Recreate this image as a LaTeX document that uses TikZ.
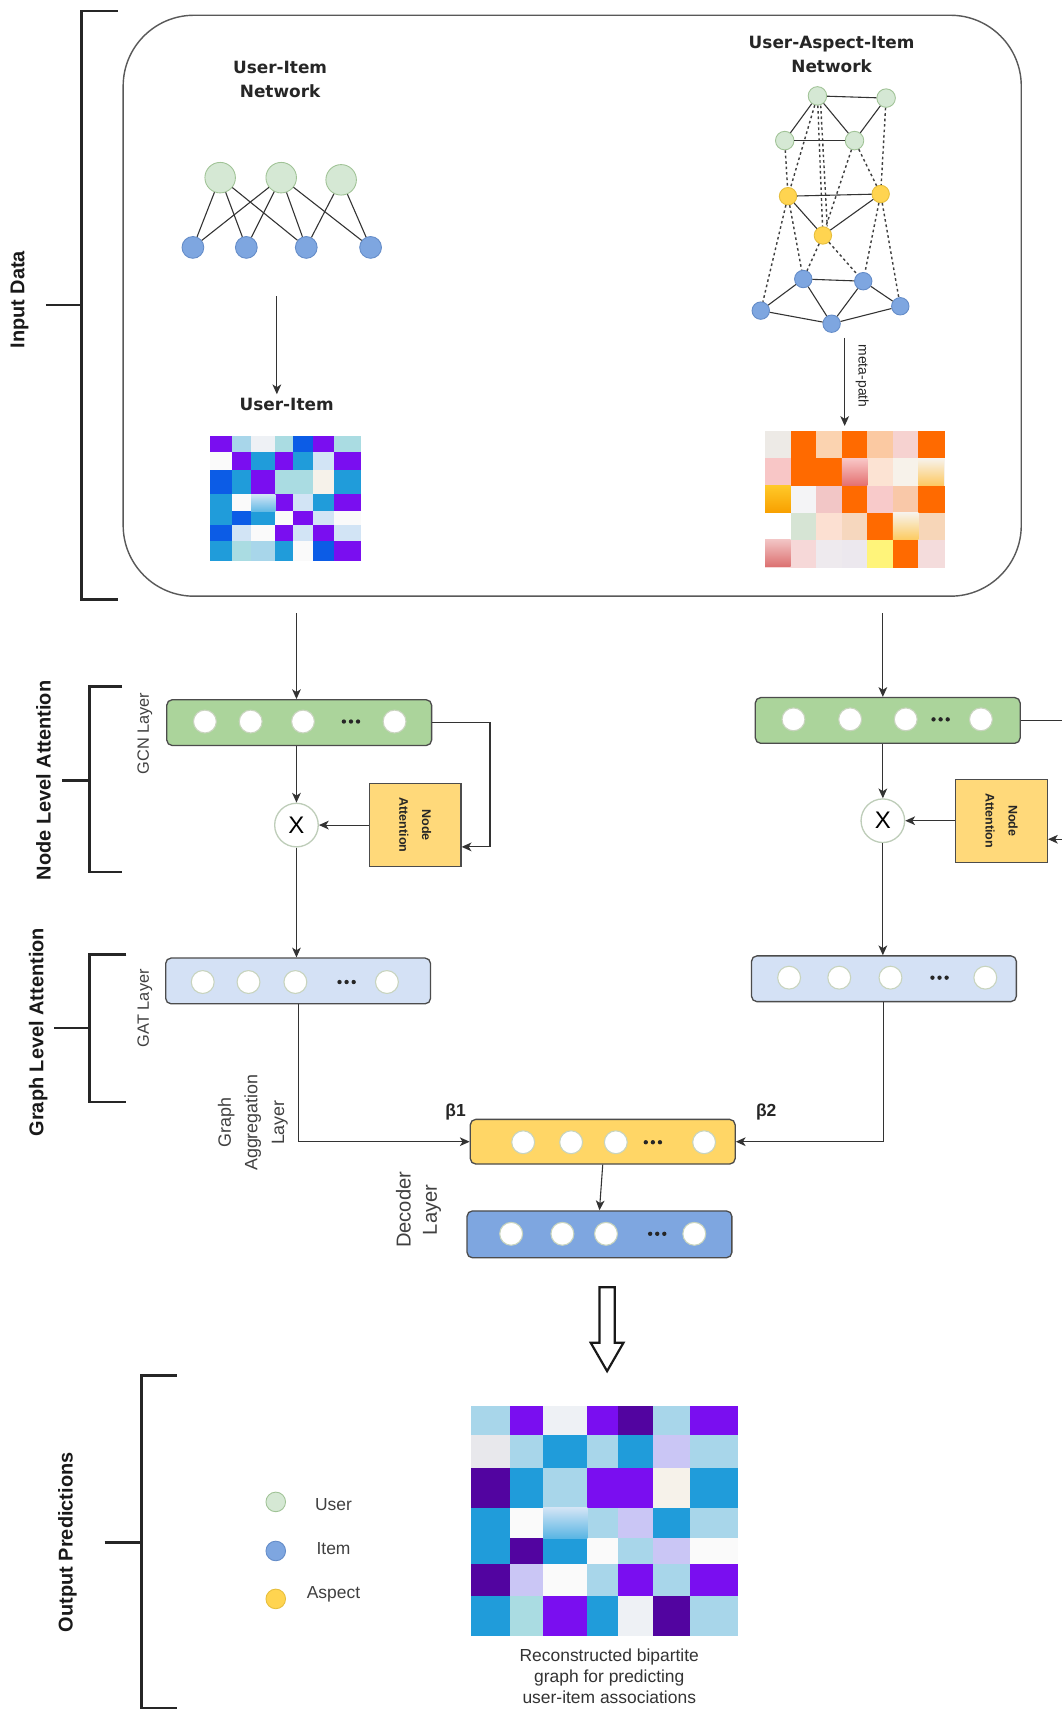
\documentclass[tikz,border=0pt]{standalone}
\usepackage{fontspec}
\setmainfont{Liberation Sans}
\newfontfamily\dv{DejaVu Sans}
\usetikzlibrary{arrows.meta,calc}

\definecolor{gcnc}{RGB}{171,212,155}
\definecolor{gatc}{RGB}{212,225,245}
\definecolor{aggc}{RGB}{255,214,102}
\definecolor{decc}{RGB}{126,166,224}
\definecolor{nattc}{RGB}{255,217,122}
\definecolor{ugreen}{RGB}{213,232,212}
\definecolor{ugreenb}{RGB}{160,195,150}
\definecolor{iblue}{RGB}{126,166,224}
\definecolor{ibblue}{RGB}{100,140,200}
\definecolor{ayel}{RGB}{255,212,80}
\definecolor{ayelb}{RGB}{230,190,60}
% blue/purple heat map
\definecolor{hP}{RGB}{122,14,240}
\definecolor{hDP}{RGB}{82,4,160}
\definecolor{hB}{RGB}{12,92,230}
\definecolor{hMB}{RGB}{32,156,218}
\definecolor{hLB}{RGB}{168,214,234}
\definecolor{hLG}{RGB}{170,220,226}
\definecolor{hVL}{RGB}{238,241,245}
\definecolor{hW}{RGB}{250,250,250}
\definecolor{hLV}{RGB}{202,198,245}
\definecolor{hLL}{RGB}{210,228,245}
\definecolor{hCR}{RGB}{246,242,234}
\definecolor{hGR}{RGB}{232,232,236}
% orange heat map
\definecolor{oO}{RGB}{255,106,0}
\definecolor{oGy}{RGB}{237,234,230}
\definecolor{oPc}{RGB}{251,211,176}
\definecolor{oPcb}{RGB}{251,201,162}
\definecolor{oPk}{RGB}{246,210,208}
\definecolor{oPkb}{RGB}{248,198,198}
\definecolor{oLP}{RGB}{252,227,211}
\definecolor{oCr}{RGB}{247,242,234}
\definecolor{oWh}{RGB}{244,244,246}
\definecolor{oPkc}{RGB}{242,198,198}
\definecolor{oPkd}{RGB}{248,202,202}
\definecolor{oPcc}{RGB}{249,200,168}
\definecolor{oW}{RGB}{255,255,255}
\definecolor{oGn}{RGB}{214,228,212}
\definecolor{oLPb}{RGB}{252,224,210}
\definecolor{oPcd}{RGB}{246,215,190}
\definecolor{oPce}{RGB}{247,214,184}
\definecolor{oPke}{RGB}{246,216,216}
\definecolor{oGyb}{RGB}{238,234,238}
\definecolor{oGyc}{RGB}{236,232,238}
\definecolor{oYl}{RGB}{255,244,122}
\definecolor{oPkf}{RGB}{244,220,220}

% #1 x0, #2 y0, #3 w, #4 h, #5 column fractions, #6 row fractions, #7 rows of colours
\newcommand\heatgrid[7]{%
  \foreach \rw [count=\rj] in {#7} {%
    \foreach \cl [count=\cj] in \rw {%
      \pgfmathtruncatemacro\ci{\cj-1}%
      \pgfmathtruncatemacro\ri{\rj-1}%
      \pgfmathsetmacro\xa{#1+#3*{#5}[\ci]}%
      \pgfmathsetmacro\xb{#1+#3*{#5}[\cj]}%
      \pgfmathsetmacro\ya{#2+#4*{#6}[\ri]}%
      \pgfmathsetmacro\yb{#2+#4*{#6}[\rj]}%
      \fill[fill=\cl,draw=\cl,line width=0.3pt] (\xa,\ya) rectangle (\xb,\yb);
    }}}

% #1 y, #2 list of circle x, #3 dots x, #4 name prefix
\newcommand\layercircs[4]{%
  \foreach \lx [count=\k] in {#2} \node[lc] (#4-\k) at (\lx,#1) {};
  \foreach \dd in {-6.5,0,6.5} \fill[black!85] (#3+\dd,#1) circle (2pt);
}

\begin{document}
\begin{tikzpicture}[x=1pt,y=-1pt,
  brk/.style={line width=2.4pt,draw=black!85},
  arr/.style={draw=black!80,line width=1pt,-{Stealth[length=9pt,width=8pt,inset=2.5pt]}},
  plain/.style={draw=black!80,line width=1pt},
  layer/.style={draw=black!70,line width=1.2pt,rounded corners=5pt,minimum width=243pt,minimum height=42pt,inner sep=0pt},
  lc/.style={circle,fill=white,draw={rgb,255:red,200;green,212;blue,190},line width=1pt,minimum size=21pt,inner sep=0pt},
  unode/.style={circle,fill=ugreen,draw=ugreenb,line width=0.8pt,inner sep=0pt},
  inode/.style={circle,fill=iblue,draw=ibblue,line width=0.8pt,inner sep=0pt},
  anode/.style={circle,fill=ayel,draw=ayelb,line width=0.8pt,inner sep=0pt},
  gedge/.style={draw=black!80,line width=1pt},
  dedge/.style={draw=black!75,line width=1.3pt,dash pattern=on 2.4pt off 2.6pt},
  title/.style={font=\dv\bfseries\fontsize{15.5}{22}\selectfont,align=center,text=black!85},
  blabel/.style={rotate=90,font=\bfseries\fontsize{18.3}{21}\selectfont,text=black!90},
  slabel/.style={rotate=90,font=\fontsize{15}{24}\selectfont,text=black!75,align=center},
  natt/.style={draw=black!70,line width=1.1pt,fill=nattc,minimum width=84pt,minimum height=76pt,inner sep=0pt},
  mult/.style={circle,draw={rgb,255:red,190;green,205;blue,185},line width=1.2pt,fill=white,minimum size=40pt,inner sep=0pt,font=\fontsize{22}{22}\selectfont}
]
\useasboundingbox (0,0) rectangle (974,1568);
\fill[white] (0,0) rectangle (974,1568);

% ---------------- brackets ----------------
\draw[brk] (108,10) -- (75,10) -- (75,550) -- (108,550);
\draw[brk] (42,280) -- (75,280);
\node[blabel] (lbinput) at (18,275) {Input Data};

\draw[brk] (112,630) -- (82,630) -- (82,800) -- (112,800);
\draw[brk] (57,716) -- (82,716);
\node[blabel] (lbnode) at (40,716) {Node Level Attention};

\draw[brk] (116,876) -- (82,876) -- (82,1011) -- (116,1011);
\draw[brk] (50,943) -- (82,943);
\node[blabel] (lbgraph) at (35,947) {Graph Level Attention};

\draw[brk] (162,1262) -- (130,1262) -- (130,1567) -- (162,1567);
\draw[brk] (96,1415) -- (130,1415);
\node[blabel] (lbout) at (62,1415) {Output Predictions};

% ---------------- input box ----------------
\node[draw=black!65,line width=1.3pt,rounded corners=65pt,minimum width=824pt,minimum height=533pt,inner sep=0pt] (inbox) at (525,280.5) {};

% left network
\node[title] (t1) at (257,73) {User-Item\\Network};
\node[unode,minimum size=28pt] (u1) at (202,163) {};
\node[unode,minimum size=28pt] (u2) at (258,163) {};
\node[unode,minimum size=28pt] (u3) at (313,165) {};
\node[inode,minimum size=20pt] (i1) at (177,227) {};
\node[inode,minimum size=20pt] (i2) at (226,227) {};
\node[inode,minimum size=20pt] (i3) at (281,227) {};
\node[inode,minimum size=20pt] (i4) at (340,227) {};
\foreach \a/\b in {u1/i1,u1/i2,u1/i3,u2/i1,u2/i2,u2/i3,u2/i4,u3/i3,u3/i4}
  \draw[gedge] (\a) -- (\b);

\coordinate (lstart) at (254,272);
\node[title] (ulabel) at (263,371) {User-Item};
\draw[arr] (lstart) -- (lstart |- ulabel.north);

\node[inner sep=0pt,minimum width=137pt,minimum height=114pt] (lmat) at (261.5,457) {};
\heatgrid{193}{400}{137}{114}{0,0.148,0.273,0.435,0.556,0.69,0.828,1}{0,0.132,0.274,0.468,0.605,0.715,0.847,1}{%
 {hP,hLB,hVL,hLG,hB,hP,hLG},
 {hW,hP,hMB,hP,hMB,hLL,hP},
 {hB,hMB,hP,hLG,hLG,hCR,hMB},
 {hMB,hW,hLL,hP,hLL,hMB,hP},
 {hMB,hB,hMB,hW,hP,hLL,hW},
 {hB,hLL,hW,hP,hLL,hP,hLL},
 {hMB,hLG,hLB,hMB,hW,hB,hP}}
\shade[top color=hLL,bottom color=hMB!70] (230.4,453.4) rectangle (252.6,469.0);

% right network
\node[title] (t2) at (763,50) {User-Aspect-Item\\Network};
\node[unode,minimum size=17pt] (g1) at (750,88) {};
\node[unode,minimum size=17pt] (g2) at (813,90) {};
\node[unode,minimum size=17pt] (g3) at (720,129) {};
\node[unode,minimum size=17pt] (g4) at (784,129) {};
\node[anode,minimum size=16pt] (y1) at (723,180) {};
\node[anode,minimum size=16pt] (y2) at (808,178) {};
\node[anode,minimum size=16pt] (y3) at (755,216) {};
\node[inode,minimum size=16pt] (b1) at (737,256) {};
\node[inode,minimum size=16pt] (b2) at (792,258) {};
\node[inode,minimum size=16pt] (b3) at (698,285) {};
\node[inode,minimum size=16pt] (b4) at (763,297) {};
\node[inode,minimum size=16pt] (b5) at (826,281) {};
\foreach \a/\b in {g1/g2,g1/g3,g1/g4,g2/g4,g3/g4,y1/y2,y1/y3,y3/y2,b1/b2,b1/b3,b1/b4,b2/b4,b2/b5,b3/b4,b4/b5}
  \draw[gedge] (\a) -- (\b);
\foreach \a/\b in {g3/y1,g1/y1,g1/y3,g4/y3,g4/y2,g2/y2,y1/b3,y1/b1,y3/b1,y3/b2,y2/b2,y2/b5}
  \draw[dedge] (\a) -- (\b);
\draw[dedge] ([xshift=3pt]g1.south) -- ([xshift=4pt]y3.north);

\node[inner sep=0pt,minimum width=164pt,minimum height=124pt] (rmat) at (784,458) {};
\heatgrid{702}{396}{164}{124}{0,0.142857,0.285714,0.428571,0.571429,0.714286,0.857143,1}{0,0.2,0.4,0.6,0.8,1}{%
 {oGy,oO,oPc,oO,oPcb,oPk,oO},
 {oPkb,oO,oO,oPkb,oLP,oCr,oCr},
 {oO,oWh,oPkc,oO,oPkd,oPcc,oO},
 {oW,oGn,oLPb,oPcd,oO,oCr,oPce},
 {oPke,oPke,oGyb,oGyc,oYl,oO,oPkf}}
\shade[top color=oPkb,bottom color={rgb,255:red,228;green,112;blue,112}] (772.3,420.8) rectangle (795.7,445.6);
\shade[top color=oCr,bottom color={rgb,255:red,253;green,200;blue,96}] (842.6,420.8) rectangle (866,445.6);
\shade[top color={rgb,255:red,255;green,200;blue,40},bottom color={rgb,255:red,248;green,160;blue,0}] (702,445.6) rectangle (725.4,470.4);
\shade[top color=oCr,bottom color={rgb,255:red,253;green,203;blue,96}] (819.1,470.4) rectangle (842.6,495.2);
\shade[top color={rgb,255:red,242;green,196;blue,196},bottom color={rgb,255:red,220;green,112;blue,112}] (702,495.2) rectangle (725.4,520);

\coordinate (rstart) at (775,310);
\draw[arr,shorten >=5pt] (rstart) -- (rstart |- rmat.north);
\node[rotate=-90,font=\fontsize{12.8}{14}\selectfont,text=black!85] (mpath) at (791,345) {meta-path};

% ---------------- left branch ----------------
\node[layer,fill=gcnc] (gcnL) at (274.5,663) {};
\layercircs{662}{188,230,278,362}{322}{cgL}
\node[slabel] (lgcn) at (133,673) {GCN Layer};
\node[mult] (xL) at (272,757) {X};
\node[natt] (naL) at (381,757) {};
\node[rotate=-90,align=center,font=\bfseries\fontsize{11.5}{21}\selectfont,text=black!85] (naLt) at (naL) {Node\\Attention};
\node[layer,fill=gatc] (gatL) at (273.5,900) {};
\layercircs{901}{186,228,271,355}{318}{ctL}
\node[slabel] (lgat) at (133,925) {GAT Layer};

\draw[arr] ($(inbox.south -| xL)+(0,15)$) -- (xL |- gcnL.north);
\draw[arr] (xL |- gcnL.south) -- (xL.north);
\draw[arr] (naL.west) -- (xL.east);
\draw[arr] (xL.south) -- (xL |- gatL.north);
\draw[arr] (gcnL.east) -- ++(53,0) |- ($(naL.east)+(0,20)$);

% ---------------- right branch ----------------
\node[layer,fill=gcnc] (gcnR) at (814.5,661) {};
\layercircs{660}{728,780,831,900}{863}{cgR}
\node[mult] (xR) at (810,753) {X};
\node[natt] (naR) at (919,753) {};
\node[rotate=-90,align=center,font=\bfseries\fontsize{11.5}{21}\selectfont,text=black!85] (naRt) at (naR) {Node\\Attention};
\node[layer,fill=gatc] (gatR) at (811,898) {};
\layercircs{897}{724,770,817,904}{862}{ctR}

\draw[arr] ($(inbox.south -| xR)+(0,15)$) -- (xR |- gcnR.north);
\draw[arr] (xR |- gcnR.south) -- (xR.north);
\draw[arr] (naR.west) -- (xR.east);
\draw[arr] (xR.south) -- (xR |- gatR.north);
\coordinate (edgeA) at (978,661);
\coordinate (edgeB) at (978,770);
\draw[plain] (gcnR.east) -- (edgeA);
\draw[arr] (edgeB) -- (naR.east |- edgeB);

% ---------------- aggregation & decoder ----------------
\node[layer,fill=aggc,minimum height=41pt] (agg) at (553,1047.5) {};
\layercircs{1048}{480,524,565,646}{599}{cag}
\node[layer,fill=decc,minimum height=43pt] (dec) at (550,1132.5) {};
\layercircs{1132}{469,516,556,637}{603}{cde}

\draw[arr] (gatL.south) |- (agg.west);
\draw[arr] (gatR.south) |- (agg.east);
\draw[arr] (agg.south) -- (dec.north);

\node[font=\bfseries\fontsize{16}{18}\selectfont,text=black!85] (beta1) at (418,1020) {β1};
\node[font=\bfseries\fontsize{16}{18}\selectfont,text=black!85] (beta2) at (703,1020) {β2};
\node[slabel,font=\fontsize{16.4}{24.5}\selectfont] (laggr) at (232,1030) {Graph\\Aggregation\\Layer};
\node[slabel,font=\fontsize{18.5}{24}\selectfont] (ldec) at (384,1110) {Decoder\\Layer};

% ---------------- output ----------------
\draw[line width=2pt,draw=black!90,fill=white,line join=miter]
  (550,1181) -- (564,1181) -- (564,1232) -- (572,1232) -- (557,1258) -- (542,1232) -- (550,1232) -- cycle;

\node[inner sep=0pt,minimum width=244pt,minimum height=210pt] (omat) at (554,1395) {};
\heatgrid{432}{1290}{244}{210}{0,0.1466,0.2719,0.4386,0.5551,0.6867,0.8246,1}{0,0.1256,0.2711,0.4441,0.5789,0.6891,0.8315,1}{%
 {hLB,hP,hVL,hP,hDP,hLB,hP},
 {hGR,hLB,hMB,hLB,hMB,hLV,hLB},
 {hDP,hMB,hLB,hP,hP,hCR,hMB},
 {hMB,hW,hLL,hLB,hLV,hMB,hLB},
 {hMB,hDP,hMB,hW,hLB,hLV,hW},
 {hDP,hLV,hW,hLB,hP,hLB,hP},
 {hMB,hLG,hP,hMB,hVL,hDP,hLB}}
\shade[top color=hLL,bottom color=hMB!75] (498.3,1383.3) rectangle (539.0,1411.6);

\node[align=center,font=\fontsize{16}{19}\selectfont,text=black!80] (cap) at (559,1538) {Reconstructed bipartite\\graph for predicting\\user-item associations};

% legend
\node[unode,minimum size=18pt] (lgu) at (253,1378) {};
\node[inode,minimum size=18pt] (lgi) at (253,1423) {};
\node[anode,minimum size=18pt] (lga) at (253,1467) {};
\node[font=\fontsize{16}{18}\selectfont,text=black!75] (lgut) at (306,1380) {User};
\node[font=\fontsize{16}{18}\selectfont,text=black!75] (lgit) at (306,1421) {Item};
\node[font=\fontsize{16}{18}\selectfont,text=black!75] (lgat) at (306,1463) {Aspect};
\end{tikzpicture}
\end{document}
